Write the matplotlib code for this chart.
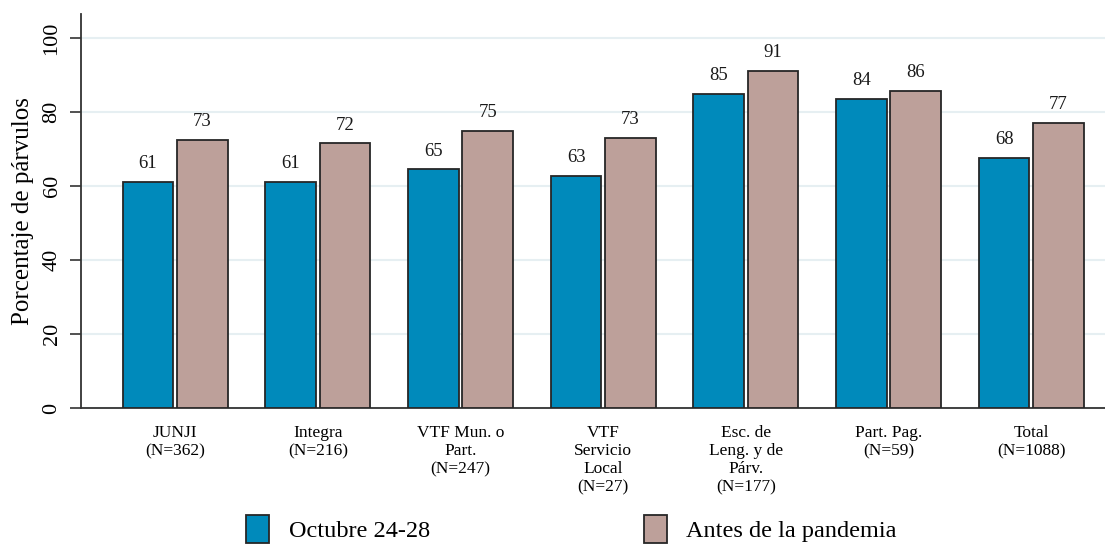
import matplotlib.pyplot as plt
import numpy as np
from matplotlib.patches import Patch

CATEGORIES = [
    "JUNJI\n(N=362)",
    "Integra\n(N=216)",
    "VTF Mun. o\nPart.\n(N=247)",
    "VTF\nServicio\nLocal\n(N=27)",
    "Esc. de\nLeng. y de\nPárv.\n(N=177)",
    "Part. Pag.\n(N=59)",
    "Total\n(N=1088)",
]
OCTUBRE = [61.1, 61.2, 64.5, 62.7, 84.9, 83.6, 67.6]
ANTES = [72.6, 71.6, 74.9, 73.0, 91.2, 85.8, 77.1]
OCTUBRE_LABELS = [61, 61, 65, 63, 85, 84, 68]
ANTES_LABELS = [73, 72, 75, 73, 91, 86, 77]

BLUE = "#008abb"
BROWN = "#bda09a"
EDGE = "#262626"

plt.rcParams["font.family"] = ["Liberation Serif", "DejaVu Serif"]

fig = plt.figure(figsize=(11.05, 5.45), dpi=100)
ax = fig.add_axes([0.0733, 0.2514, 0.94, 0.7226])

x = np.arange(len(CATEGORIES))
width = 0.355
offset = 0.19

bars_a = ax.bar(x - offset, OCTUBRE, width, color=BLUE, edgecolor=EDGE, linewidth=1.3, zorder=3)
bars_b = ax.bar(x + offset, ANTES, width, color=BROWN, edgecolor=EDGE, linewidth=1.3, zorder=3)

for bars, labels in ((bars_a, OCTUBRE_LABELS), (bars_b, ANTES_LABELS)):
    for bar, lab in zip(bars, labels):
        ax.annotate(
            str(lab),
            (bar.get_x() + bar.get_width() / 2, bar.get_height()),
            xytext=(0, 7),
            textcoords="offset points",
            ha="center",
            va="bottom",
            fontsize=13.5,
            color="#1a1a1a",
        )

ax.set_xlim(-0.66, 6.62)
ax.set_ylim(0, 106.5)
ax.set_yticks([0, 20, 40, 60, 80, 100])
ax.set_yticklabels(["0", "20", "40", "60", "80", "100"], rotation=90, va="center", fontsize=16)
ax.set_xticks(x)
ax.set_xticklabels(CATEGORIES, fontsize=12.5, linespacing=1.2)
ax.tick_params(axis="x", length=0, pad=12)
ax.tick_params(axis="y", length=8, width=1.2, color="#333333", pad=6)
ax.set_ylabel("Porcentaje de párvulos", fontsize=18, labelpad=6)

ax.grid(axis="y", color="#e6eff2", linewidth=1.5, zorder=0)
ax.set_axisbelow(True)
for side in ("top", "right"):
    ax.spines[side].set_visible(False)
ax.spines["left"].set_color("#333333")
ax.spines["left"].set_linewidth(1.3)
ax.spines["bottom"].set_color("#333333")
ax.spines["bottom"].set_linewidth(1.3)

handles = [
    Patch(facecolor=BLUE, edgecolor=EDGE, linewidth=1.3, label="Octubre 24-28"),
    Patch(facecolor=BROWN, edgecolor=EDGE, linewidth=1.3, label="Antes de la pandemia"),
]
fig.legend(
    handles=handles,
    loc="center",
    bbox_to_anchor=(0.517, 0.03),
    ncol=2,
    frameon=False,
    fontsize=17.5,
    handlelength=0.95,
    handleheight=1.4,
    handletextpad=0.8,
    columnspacing=8.8,
    borderpad=0.1,
)

fig.savefig("out.png", dpi=100)
